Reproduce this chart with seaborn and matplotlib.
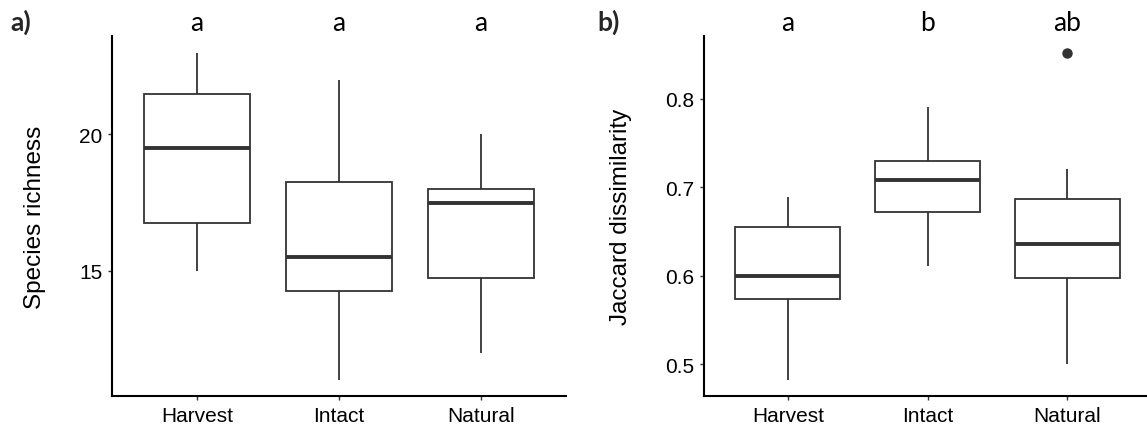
import numpy as np
import pandas as pd
import matplotlib
matplotlib.use("Agg")
import matplotlib.pyplot as plt
import seaborn as sns

# ---- data (values chosen so the boxes hit the quartiles) ----
sites = ["Harvest", "Intact", "Natural"]

richness_harvest = [15, 16.75, 19.5, 21.5, 23]
richness_intact = [11, 14.25, 15.5, 18.25, 22]
richness_natural = [12, 14.75, 17.5, 18, 20]

jaccard_harvest = [0.482, 0.573, 0.600, 0.655, 0.689]
jaccard_intact = [0.611, 0.672, 0.708, 0.730, 0.791]
jaccard_natural = [0.500, 0.550, 0.597, 0.620, 0.636, 0.660, 0.687, 0.720, 0.852]

letters_richness = ["a", "a", "a"]
letters_jaccard = ["a", "b", "ab"]


def long_form(groups, name):
    rows = []
    for site, vals in zip(sites, groups):
        rows += [(site, v) for v in vals]
    return pd.DataFrame(rows, columns=["site", name])


df_rich = long_form([richness_harvest, richness_intact, richness_natural], "richness")
df_jac = long_form([jaccard_harvest, jaccard_intact, jaccard_natural], "jaccard")

sns.set_style("ticks")
plt.rcParams["font.family"] = ["Liberation Sans", "DejaVu Sans"]

W, H = 1147, 427
fig = plt.figure(figsize=(W / 100, H / 100), dpi=100)
bottom = 1 - 397.3 / H
height = (397.3 - 37.3) / H
ax_a = fig.add_axes([112 / W, bottom, (566 - 112) / W, height])
ax_b = fig.add_axes([704 / W, bottom, (1151 - 704) / W, height])

LINE = "#333333"
box_kw = dict(width=0.75, color="white", linecolor=LINE, linewidth=1.3,
              saturation=1, showcaps=False, whis=1.5,
              medianprops=dict(linewidth=2.8, color=LINE),
              flierprops=dict(marker="o", markerfacecolor=LINE,
                              markeredgecolor=LINE, markersize=6.5))

sns.boxplot(data=df_rich, x="site", y="richness", order=sites, ax=ax_a, **box_kw)
sns.boxplot(data=df_jac, x="site", y="jaccard", order=sites, ax=ax_b, **box_kw)

ax_a.set_ylim(10.4, 23.6)
ax_a.set_yticks([15, 20])
ax_b.set_ylim(0.4635, 0.8705)
ax_b.set_yticks([0.5, 0.6, 0.7, 0.8])
ax_b.set_yticklabels(["0.5", "0.6", "0.7", "0.8"])

for ax, ylab, letters in ((ax_a, "Species richness", letters_richness),
                          (ax_b, "Jaccard dissimilarity", letters_jaccard)):
    ax.set_xlim(-0.6, 2.6)
    ax.set_xlabel("")
    ax.set_ylabel(ylab, fontsize=17.5, color="black", labelpad=24)
    sns.despine(ax=ax)
    for side in ("left", "bottom"):
        ax.spines[side].set_linewidth(1.5)
        ax.spines[side].set_color("black")
    ax.tick_params(axis="both", labelsize=15, colors=LINE, labelcolor="black",
                   length=3, width=1, pad=4)
    for i, lt in enumerate(letters):
        ax.text(i, 1.018, lt, transform=ax.get_xaxis_transform(),
                ha="center", va="baseline", fontsize=19,
                family=["Lato", "DejaVu Sans"], color="black")

fig.text(10 / W, 1 - 30.5 / H, "a)", fontsize=19, fontweight="bold",
         family=["Lato", "DejaVu Sans"], va="baseline", ha="left")
fig.text(597 / W, 1 - 30.5 / H, "b)", fontsize=19, fontweight="bold",
         family=["Lato", "DejaVu Sans"], va="baseline", ha="left")

fig.savefig("out.png", dpi=100)
